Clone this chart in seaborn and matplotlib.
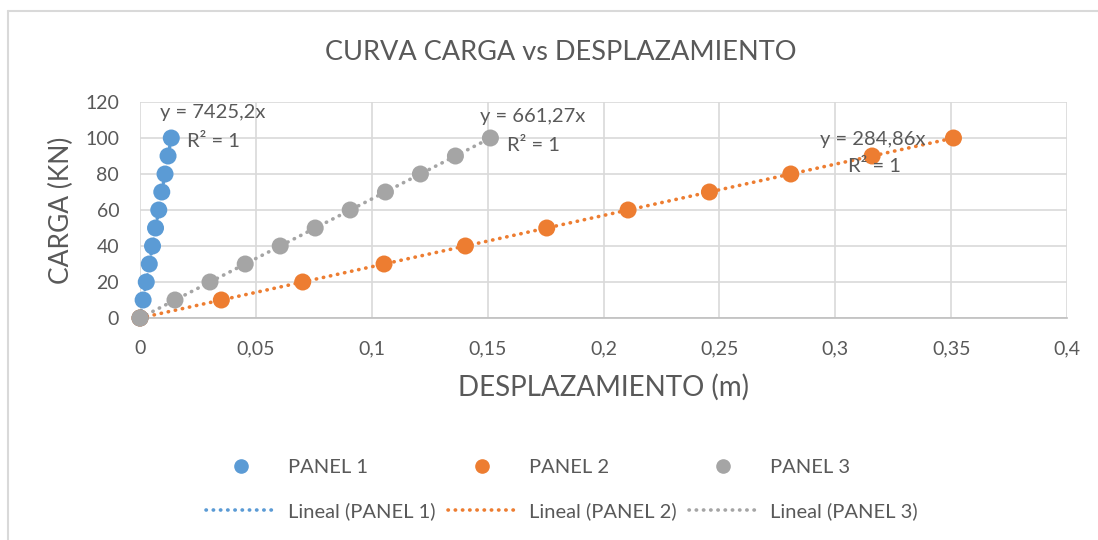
import numpy as np
import pandas as pd
import seaborn as sns
import matplotlib.pyplot as plt
from matplotlib.lines import Line2D

# data
carga = [0, 10, 20, 30, 40, 50, 60, 70, 80, 90, 100]
desp_panel1 = [0, 0.00135, 0.0027, 0.0040, 0.0054, 0.0067, 0.0081, 0.0094, 0.0108, 0.0121, 0.0135]
desp_panel2 = [0, 0.0351, 0.0702, 0.1053, 0.1404, 0.1755, 0.2106, 0.2457, 0.2808, 0.3159, 0.3510]
desp_panel3 = [0, 0.0151, 0.0302, 0.0454, 0.0605, 0.0756, 0.0907, 0.1059, 0.1210, 0.1361, 0.1512]
panels = ["PANEL 1", "PANEL 2", "PANEL 3"]
ecuaciones = ["y = 7425,2x", "y = 284,86x", "y = 661,27x"]
x_ticks = [0, 0.05, 0.1, 0.15, 0.2, 0.25, 0.3, 0.35, 0.4]
x_ticklabels = ["0", "0,05", "0,1", "0,15", "0,2", "0,25", "0,3", "0,35", "0,4"]
y_ticks = [0, 20, 40, 60, 80, 100, 120]

colores = ["#5B9BD5", "#ED7D31", "#A5A5A5"]
texto = "#595959"

sns.set_style("white")
plt.rcParams['font.family'] = ['Lato', 'DejaVu Sans']

df = pd.DataFrame({
    "desp": desp_panel1 + desp_panel2 + desp_panel3,
    "carga": carga * 3,
    "panel": [p for p in panels for _ in carga],
})

fig = plt.figure(figsize=(10.98, 5.4), dpi=100)
ax = fig.add_axes([0.1275, 0.4111, 0.8443, 0.4])

# trendlines (least squares through origin) drawn below the points
for (p, g), c in zip(df.groupby("panel", sort=False), colores):
    x = g["desp"].to_numpy()
    y = g["carga"].to_numpy()
    m = (x * y).sum() / (x * x).sum()
    xs = np.array([0, x.max()])
    ax.plot(xs, m * xs, color=c, lw=2.6, linestyle=(0, (0.1, 1.9)),
            dash_capstyle="round", zorder=2)

sns.scatterplot(data=df, x="desp", y="carga", hue="panel", palette=colores,
                s=150, edgecolor="none", legend=False, ax=ax, zorder=3,
                clip_on=False)

# trendline labels
etiquetas = [(0.0086, 114.4, 0.0203, 98.3), (0.2934, 98.9, 0.3055, 83.9),
             (0.1467, 111.7, 0.1584, 96.1)]
for eq, (xe, ye, xr, yr) in zip(ecuaciones, etiquetas):
    ax.text(xe, ye, eq, fontsize=14.5, color=texto, va="center", ha="left", zorder=4)
    ax.text(xr, yr, "R² = 1", fontsize=14.5, color=texto, va="center", ha="left", zorder=4)

ax.set_xlim(0, 0.4)
ax.set_ylim(0, 120)
ax.set_xticks(x_ticks)
ax.set_xticklabels(x_ticklabels)
ax.set_yticks(y_ticks)
ax.grid(True, color="#D9D9D9", lw=1.2)
ax.set_axisbelow(True)
for s in ["top", "right", "left"]:
    ax.spines[s].set_visible(False)
ax.spines["bottom"].set_color("#BFBFBF")
ax.spines["bottom"].set_linewidth(1.2)
ax.tick_params(length=0, labelsize=14, colors=texto)
ax.tick_params(axis="x", pad=16)
ax.tick_params(axis="y", pad=15)

ax.set_xlabel("DESPLAZAMIENTO (m)", fontsize=20, color=texto, labelpad=12)
ax.set_ylabel("CARGA (KN)", fontsize=19, color=texto, labelpad=8)
fig.text(0.511, 0.902, "CURVA CARGA vs DESPLAZAMIENTO", fontsize=19.5,
         color=texto, ha="center", va="center")

handles, labels = [], []
for p, c in zip(panels, colores):
    handles.append(Line2D([], [], marker="o", color=c, ls="none", markersize=9.5))
    labels.append(p)
    handles.append(Line2D([], [], color=c, lw=2.6, ls=(0, (0.1, 1.9)),
                          dash_capstyle="round"))
    labels.append("Lineal (" + p + ")")
fig.legend(handles, labels, ncol=3, loc="center", bbox_to_anchor=(0.512, 0.093),
           frameon=False, fontsize=14.5, labelcolor=texto, handlelength=3.4,
           handletextpad=0.65, columnspacing=0.6, labelspacing=1.3)

# chart area border (left and top only visible)
fig.add_artist(Line2D([0.0075, 0.0075], [0, 0.98], color="#D9D9D9", lw=1.5))
fig.add_artist(Line2D([0.0075, 1.0], [0.98, 0.98], color="#D9D9D9", lw=1.5))

fig.savefig("out.png", dpi=100)
